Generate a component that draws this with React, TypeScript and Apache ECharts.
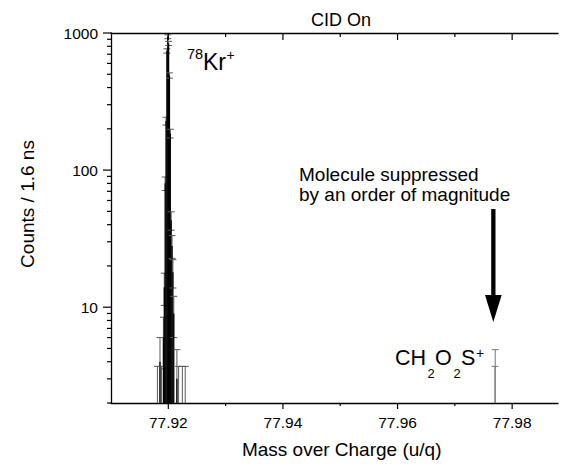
import React, { useEffect, useRef } from 'react';
import * as echarts from 'echarts';

// 78Kr+ peak (histogram bins, counts per 1.6 ns, Poisson error)
const krMass = [77.9181, 77.91855, 77.9188, 77.91915, 77.9193, 77.91945, 77.9196, 77.91975, 77.9199, 77.92005, 77.9202, 77.92035, 77.9205, 77.92065, 77.9208, 77.92095, 77.9215, 77.9218, 77.92245, 77.92295];
const krCounts = [2, 4, 2, 6, 14, 80, 228, 740, 940, 840, 490, 185, 43, 28, 18, 9, 3, 2, 2, 2];
const krErrors = [1.7, 2, 1.7, 2.45, 3.7, 9, 15, 27, 31, 29, 22, 13.6, 6.6, 5.3, 4.2, 3, 1.9, 1.7, 1.7, 1.7];

// CH2O2S+ peak
const molMass = [77.977, 77.97705];
const molCounts = [2, 2];
const molErrors = [1.7, 2.9];

// axis ticks
const xMajorTicks = [77.92, 77.94, 77.96, 77.98];
const xMinorTicks = [77.93, 77.95, 77.97];
const yMajorTicks = [10, 100, 1000];
const yMinorTicks = [2, 3, 4, 5, 6, 7, 8, 9, 20, 30, 40, 50, 60, 70, 80, 90, 200, 300, 400, 500, 600, 700, 800, 900];

const X_MIN = 77.91;
const X_MAX = 77.988;
const Y_MIN = 2;
const Y_MAX = 1000;
const FONT = '"Liberation Sans", Arial, sans-serif';
const ERR_COLOR = '#5a5a5a';

function peakSeries(name: string, mass: number[], counts: number[], errs: number[], dropColor: string, errColor: string) {
  return {
    type: 'custom',
    name,
    xAxisIndex: 0,
    yAxisIndex: 0,
    clip: true,
    silent: true,
    data: mass.map((m, i) => [m, counts[i], errs[i]]),
    renderItem: (_p: any, api: any) => {
      const m = api.value(0);
      const c = api.value(1);
      const e = api.value(2);
      const base = api.coord([m, Y_MIN]);
      const x = base[0];
      const yb = base[1];
      const yc = api.coord([m, Math.max(c, Y_MIN)])[1];
      const hi = api.coord([m, c + e])[1];
      const lo = api.coord([m, Math.max(c - e, Y_MIN)])[1];
      const children: any[] = [];
      children.push({ type: 'line', shape: { x1: x, y1: lo, x2: x, y2: hi }, style: { stroke: errColor, lineWidth: 1 } });
      children.push({ type: 'line', shape: { x1: x - 3.5, y1: hi, x2: x + 3.5, y2: hi }, style: { stroke: errColor, lineWidth: 1 } });
      if (c - e > Y_MIN) {
        children.push({ type: 'line', shape: { x1: x - 3.5, y1: lo, x2: x + 3.5, y2: lo }, style: { stroke: errColor, lineWidth: 1 } });
      }
      if (c > Y_MIN) {
        children.push({ type: 'line', shape: { x1: x, y1: yb, x2: x, y2: yc }, style: { stroke: dropColor, lineWidth: 1.3 } });
      }
      return { type: 'group', children };
    },
  };
}

function xTickSeries(name: string, vals: number[], bottomLen: number, topLen: number) {
  return {
    type: 'custom',
    name,
    clip: false,
    silent: true,
    z: 5,
    data: vals.map((v) => [v, Y_MIN]),
    renderItem: (_p: any, api: any) => {
      const v = api.value(0);
      const b = api.coord([v, Y_MIN]);
      const t = api.coord([v, Y_MAX]);
      return {
        type: 'group',
        children: [
          { type: 'line', shape: { x1: b[0], y1: b[1], x2: b[0], y2: b[1] + bottomLen }, style: { stroke: '#000', lineWidth: 1.2 } },
          { type: 'line', shape: { x1: t[0], y1: t[1], x2: t[0], y2: t[1] + topLen }, style: { stroke: '#000', lineWidth: 1.2 } },
        ],
      };
    },
  };
}

function yTickSeries(name: string, vals: number[], len: number) {
  return {
    type: 'custom',
    name,
    clip: false,
    silent: true,
    z: 5,
    data: vals.map((v) => [X_MIN, v]),
    renderItem: (_p: any, api: any) => {
      const p = api.coord([X_MIN, api.value(1)]);
      return { type: 'line', shape: { x1: p[0] - len, y1: p[1], x2: p[0], y2: p[1] }, style: { stroke: '#000', lineWidth: 1.2 } };
    },
  };
}

function txt(text: string, x: number, y: number, size: number, align = 'left', extra: any = {}) {
  return {
    type: 'text',
    x,
    y,
    silent: true,
    ...extra,
    style: {
      text,
      fill: '#000',
      fontSize: size,
      fontFamily: FONT,
      align,
      verticalAlign: 'middle',
      textAlign: align,
      textVerticalAlign: 'middle',
    },
  };
}

export default function App() {
  const ref = useRef<HTMLDivElement>(null);
  useEffect(() => {
    if (!ref.current) return;
    const chart = echarts.init(ref.current, null, { renderer: 'svg' });
    const axisLine = { show: true, lineStyle: { color: '#000', width: 1.3 } };
    chart.setOption({
      animation: false,
      backgroundColor: '#fff',
      grid: { left: 111, top: 33, width: 450, height: 370, containLabel: false },
      xAxis: [
        {
          type: 'value',
          position: 'bottom',
          min: X_MIN,
          max: X_MAX,
          interval: 0.01,
          axisLine,
          axisTick: { show: false },
          splitLine: { show: false },
          axisLabel: {
            margin: 11,
            fontSize: 15.5,
            fontFamily: FONT,
            color: '#000',
            formatter: (v: number) => {
              const h = Math.round(v * 100);
              return h % 2 === 0 && Math.abs(v * 100 - h) < 1e-6 ? (h / 100).toFixed(2) : '';
            },
          },
        },
        {
          type: 'value',
          position: 'top',
          min: X_MIN,
          max: X_MAX,
          interval: 0.01,
          axisLine,
          axisTick: { show: false },
          splitLine: { show: false },
          axisLabel: { show: false },
        },
      ],
      yAxis: {
        type: 'log',
        logBase: 10,
        min: Y_MIN,
        max: Y_MAX,
        axisLine,
        axisTick: { show: false },
        splitLine: { show: false },
        axisLabel: {
          margin: 13,
          fontSize: 15.5,
          fontFamily: FONT,
          color: '#000',
          formatter: (v: number) => {
            const r = Math.round(v);
            return yMajorTicks.indexOf(r) >= 0 ? String(r) : '';
          },
        },
      },
      series: [
        peakSeries('78Kr+', krMass, krCounts, krErrors, '#000', ERR_COLOR),
        peakSeries('CH2O2S+', molMass, molCounts, molErrors, '#777', '#777'),
        xTickSeries('xMajor', xMajorTicks, 6, 7),
        xTickSeries('xMinor', xMinorTicks, 3, 4),
        yTickSeries('yMajor', yMajorTicks, 8),
        yTickSeries('yMinor', yMinorTicks, 4),
      ],
      graphic: [
        txt('CID On', 341, 19.5, 18, 'center'),
        txt('Mass over Charge (u/q)', 341.7, 449, 19, 'center'),
        txt('Counts / 1.6 ns', 27, 204, 19, 'center', { rotation: Math.PI / 2 }),
        txt('78', 187, 53.5, 14.5),
        txt('Kr', 203, 62, 23),
        txt('+', 226.5, 54.5, 14),
        txt('CH', 395, 358.2, 21.5),
        txt('2', 427.5, 373.7, 13),
        txt('O', 435, 358.2, 21.5),
        txt('2', 453.5, 373.7, 13),
        txt('S', 461, 358.2, 21.5),
        txt('+', 476, 352.5, 14),
        txt('Molecule suppressed', 299, 174, 19),
        txt('by an order of magnitude', 299, 194.1, 19),
        { type: 'rect', silent: true, shape: { x: 491.2, y: 209, width: 4.3, height: 88 }, style: { fill: '#000' } },
        { type: 'polygon', silent: true, shape: { points: [[485, 295], [501.7, 295], [493.3, 322]] }, style: { fill: '#000' } },
      ],
    });
    return () => chart.dispose();
  }, []);
  return (
    <div
      ref={ref}
      style={{ position: 'fixed', left: 0, top: 0, width: 561, height: 466, background: '#fff' }}
    />
  );
}
